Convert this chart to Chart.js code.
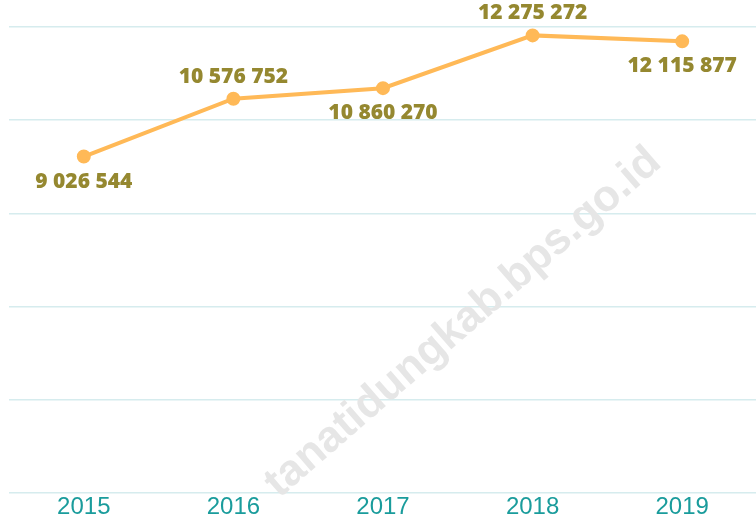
<!DOCTYPE html>
<html>
<head>
<meta charset="utf-8">
<script src="https://cdn.jsdelivr.net/npm/chart.js@4/dist/chart.umd.min.js"></script>
<style>
  html, body { margin: 0; padding: 0; background: #fff; overflow: hidden; }
  #wrap { position: relative; width: 756px; height: 517px; overflow: hidden; }
  #box { position: absolute; left: 0; top: 0; width: 766px; height: 522px; }
</style>
</head>
<body>
<div id="wrap"><div id="box"><canvas id="chart"></canvas></div></div>
<script>
const years = ['2015', '2016', '2017', '2018', '2019'];
const values = [9026544, 10576752, 10860270, 12275272, 12115877];
const labelSide = ['below', 'above', 'below', 'above', 'below'];

const fmt = v => String(v).replace(/\B(?=(\d{3})+(?!\d))/g, ' ');

const watermark = {
    id: 'watermark',
    beforeDatasetsDraw(chart) {
        const ctx = chart.ctx;
        ctx.save();
        ctx.translate(655, 156);
        ctx.rotate(-41 * Math.PI / 180);
        ctx.font = 'bold 44px "Liberation Sans", Arial, sans-serif';
        ctx.fillStyle = '#e6e6e6';
        ctx.textAlign = 'right';
        ctx.textBaseline = 'middle';
        ctx.fillText('tanatidungkab.bps.go.id', 0, 0);
        ctx.restore();
    }
};

const valueLabels = {
    id: 'valueLabels',
    afterDatasetsDraw(chart) {
        const ctx = chart.ctx;
        const meta = chart.getDatasetMeta(0);
        ctx.save();
        ctx.font = '800 21px "Open Sans", sans-serif';
        ctx.fillStyle = '#958830';
        ctx.textAlign = 'center';
        ctx.textBaseline = 'middle';
        meta.data.forEach((pt, i) => {
            const dy = labelSide[i] === 'above' ? -22 : 25;
            ctx.fillText(fmt(values[i]), pt.x, pt.y + dy);
        });
        ctx.restore();
    }
};

new Chart(document.getElementById('chart'), {
    type: 'line',
    data: {
        labels: years,
        datasets: [{
            data: values,
            borderColor: '#ffb957',
            backgroundColor: '#ffb957',
            borderWidth: 4,
            pointRadius: 5,
            pointHoverRadius: 5,
            tension: 0
        }]
    },
    options: {
        responsive: true,
        maintainAspectRatio: false,
        animation: false,
        layout: { padding: { top: 27, left: 7, right: 0, bottom: 0 } },
        plugins: { legend: { display: false }, tooltip: { enabled: false } },
        scales: {
            x: {
                offset: true,
                grid: { display: false, drawTicks: false },
                border: { display: false },
                ticks: { color: '#1a9c9c', font: { family: 'Arial, "Liberation Sans", sans-serif', size: 24 }, padding: 0 }
            },
            y: {
                min: 0,
                max: 12500000,
                ticks: { display: false, stepSize: 2500000 },
                grid: { color: '#d6ecee', lineWidth: 1.5, drawTicks: false },
                border: { display: false }
            }
        }
    },
    plugins: [watermark, valueLabels]
});
</script>
</body>
</html>
